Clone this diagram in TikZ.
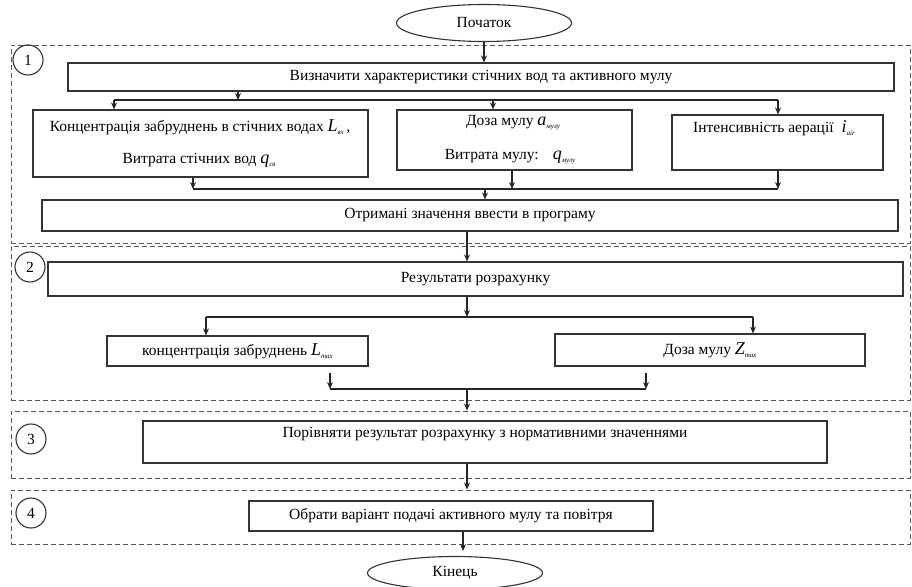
\documentclass[tikz,border=0pt]{standalone}
\usepackage{fontspec}
\setmainfont{Liberation Serif}
\usetikzlibrary{arrows.meta,shapes.geometric}
\newcommand{\mv}[2]{{\fontsize{18}{18}\selectfont\itshape #1}\raisebox{-3pt}{\fontsize{7}{8}\selectfont\itshape #2}}
\begin{document}
\begin{tikzpicture}[x=1pt,y=-1pt,
  sz/.style 2 args={minimum width=#1,minimum height=#2},
  box/.style={draw=black!80,line width=1.1pt,inner sep=0pt,rectangle,font=\fontsize{15.5}{18}\selectfont},
  zone/.style={draw=black!65,line width=0.9pt,dash pattern=on 5pt off 3pt,inner sep=0pt,rectangle},
  term/.style={draw=black!80,line width=1.1pt,ellipse,inner sep=0pt,font=\fontsize{15.5}{18}\selectfont},
  num/.style={draw=black!80,line width=1.1pt,circle,minimum size=30pt,inner sep=0pt,font=\fontsize{15.5}{18}\selectfont},
  txt/.style={font=\fontsize{15.5}{18}\selectfont,inner sep=0pt},
  arr/.style={draw=black!85,line width=1.1pt,-{Stealth[length=7pt,width=6pt]}},
  ln/.style={draw=black!85,line width=1.1pt}
]
\useasboundingbox (0,0) rectangle (912,586);
% zones
\node[zone,sz={899pt}{198pt}] (z1) at (460.5,144) {};
\node[zone,sz={899pt}{154pt}] (z2) at (460.5,323) {};
\node[zone,sz={899pt}{67pt}] (z3) at (460.5,444.5) {};
\node[zone,sz={899pt}{54pt}] (z4) at (460.5,517) {};
\node[num] (c1) at (28,60) {1};
\node[num] (c2) at (30,267) {2};
\node[num] (c3) at (31,439) {3};
\node[num] (c4) at (31,513) {4};
% terminals
\node[term,sz={175pt}{37pt}] (start) at (484,23) {Початок};
\node[term,sz={175pt}{33pt}] (end) at (455,573) {Кінець};
% boxes
\node[box,sz={826pt}{28pt}] (vis) at (481,77) {Визначити характеристики стічних вод та активного мулу};
\node[box,sz={335pt}{67pt}] (conc) at (200.5,143.5) {};
\node[txt] (conct1) at (200,127) {Концентрація забруднень в стічних водах \mv{L}{вх}\,,};
\node[txt] (conct2) at (199,160) {Витрата стічних вод \mv{q}{св}};
\node[box,sz={235pt}{60pt}] (doza) at (514.5,140) {};
\node[txt] (dozat1) at (513,123) {Доза мулу \mv{a}{мулу}};
\node[txt] (dozat2) at (510,157) {Витрата мулу:\hspace{14pt}\mv{q}{мулу}};
\node[box,sz={211pt}{55pt}] (inten) at (777.5,142.5) {};
\node[txt] (intent) at (774,128) {Інтенсивність аерації\hspace{8pt}\mv{i}{air}};
\node[box,sz={856pt}{31pt}] (otr) at (470,215.5) {Отримані значення ввести в програму};
\node[box,sz={855pt}{34pt}] (rez) at (475.5,279) {Результати розрахунку};
\node[box,sz={261pt}{30pt}] (konc2) at (237.5,351) {концентрація забруднень \mv{L}{max}};
\node[box,sz={310pt}{32pt}] (doza2) at (710,350) {Доза мулу \mv{Z}{max}};
\node[box,sz={684pt}{42pt}] (por) at (485,442) {};
\node[txt] (port) at (485,434) {Порівняти результат розрахунку з нормативними значеннями};
\node[box,sz={404pt}{30pt}] (obr) at (451,516) {Обрати варіант подачі активного мулу та повітря};
% bus coordinates
\coordinate (b1) at (238,100);
\coordinate (b1l) at (114,100);
\coordinate (b1m) at (493,100);
\coordinate (b1r) at (778,100);
\coordinate (b2l) at (193,189);
\coordinate (b2m) at (512,189);
\coordinate (b2r) at (778,189);
\coordinate (b2o) at (485,189);
\coordinate (x3) at (467,0);
\coordinate (b3c) at (467,317);
\coordinate (b3l) at (206,317);
\coordinate (b3r) at (753,317);
\coordinate (a4l) at (330,373);
\coordinate (b4l) at (330,389);
\coordinate (a4r) at (646,373);
\coordinate (b4r) at (646,389);
\coordinate (b4c) at (467,389);
\coordinate (x5) at (463,0);
\coordinate (e1) at (463,551);
% connectors
\draw[arr] (start.south) -- (start.south |- vis.north);
\draw[arr] (vis.south -| b1) -- (b1);
\draw[ln] (b1l) -- (b1r);
\draw[arr] (b1l) -- (b1l |- conc.north);
\draw[arr] (b1m) -- (b1m |- doza.north);
\draw[arr] (b1r) -- (b1r |- inten.north);
\draw[arr] (conc.south -| b2l) -- (b2l);
\draw[arr] (doza.south -| b2m) -- (b2m);
\draw[arr] (inten.south -| b2r) -- (b2r);
\draw[ln] (b2l) -- (b2r);
\draw[arr] (b2o) -- (b2o |- otr.north);
\draw[arr] (otr.south -| x3) -- (rez.north -| x3);
\draw[arr] (rez.south -| b3c) -- (b3c);
\draw[ln] (b3l) -- (b3r);
\draw[arr] (b3l) -- (b3l |- konc2.north);
\draw[arr] (b3r) -- (b3r |- doza2.north);
\draw[arr] (a4l) -- (b4l);
\draw[arr] (a4r) -- (b4r);
\draw[ln] (b4l) -- (b4r);
\draw[arr] (b4c) -- (b4c |- z3.north);
\draw[arr] (por.south -| x3) -- (z4.north -| x3);
\draw[arr] (obr.south -| x5) -- (e1);
\end{tikzpicture}
\end{document}
